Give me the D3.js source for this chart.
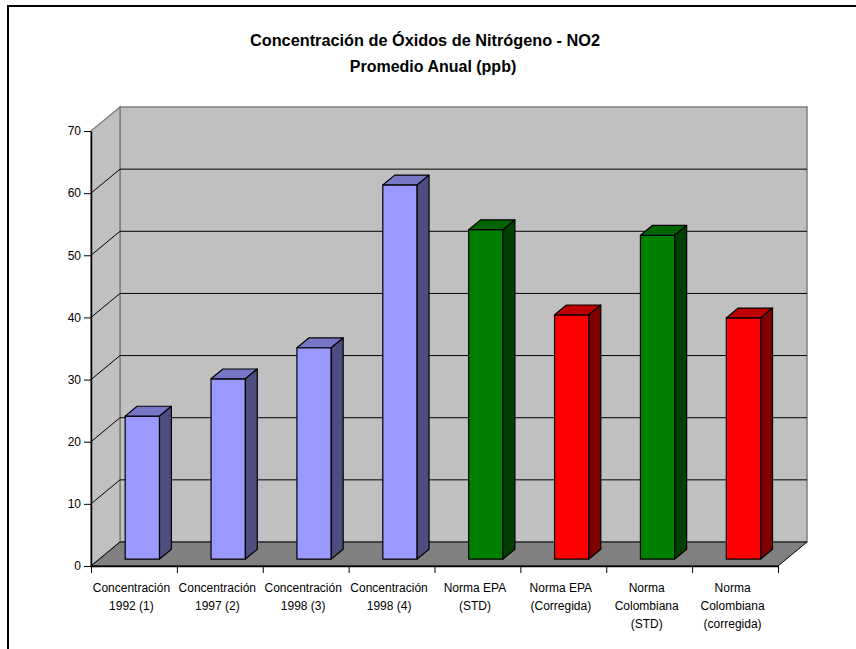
<!DOCTYPE html>
<html>
<head>
<meta charset="utf-8">
<script src="https://cdn.jsdelivr.net/npm/d3@7"></script>
<style>
  html, body { margin: 0; padding: 0; background: #fff; }
  svg { display: block; font-family: "Liberation Sans", Arial, sans-serif; }
</style>
</head>
<body>
<svg id="chart" width="856" height="649"></svg>
<script>
// Annual average NO2 concentrations (ppb) and reference standards
const categories = [
  "Concentración 1992 (1)",
  "Concentración 1997 (2)",
  "Concentración 1998 (3)",
  "Concentración 1998 (4)",
  "Norma EPA (STD)",
  "Norma EPA (Corregida)",
  "Norma Colombiana (STD)",
  "Norma Colombiana (corregida)"
];
const categoryLines = [
  ["Concentración", "1992 (1)"],
  ["Concentración", "1997 (2)"],
  ["Concentración", "1998 (3)"],
  ["Concentración", "1998 (4)"],
  ["Norma EPA", "(STD)"],
  ["Norma EPA", "(Corregida)"],
  ["Norma", "Colombiana", "(STD)"],
  ["Norma", "Colombiana", "(corregida)"]
];
const values = [23, 29, 34, 60.2, 53, 39.3, 52.1, 38.8];
const barKind = ["conc", "conc", "conc", "conc", "std", "corr", "std", "corr"];
const yTicks = [0, 10, 20, 30, 40, 50, 60, 70];
const titleLines = ["Concentración de Óxidos de Nitrógeno - NO2", "Promedio Anual (ppb)"];

// face colours: front, top, side
const palette = {
  conc: { front: "#9999ff", top: "#7777c8", side: "#4d4d80" },
  std:  { front: "#008000", top: "#006400", side: "#004000" },
  corr: { front: "#ff0000", top: "#c00000", side: "#800000" }
};

const svg = d3.select("#chart");

// plot frame (front plane) and depth offset
const plotL = 91, plotR = 778, plotB = 566, plotT = 131;
const DX = 29, DY = 24;
const F1 = 0.29, F2 = 0.70;           // bar depth range (fraction of the floor depth)

const x = d3.scaleBand().domain(categories).range([plotL, plotR]).padding(0);
const xEdge = d3.scaleLinear().domain([0, categories.length]).range([plotL, plotR]);
const y = d3.scaleLinear().domain([0, 70]).range([plotB, plotT]);
const P = (px, py, f) => [px + f * DX, py - f * DY];
const pts = arr => arr.map(p => p.join(",")).join(" ");

// outer chart border
svg.append("rect")
  .attr("x", 8).attr("y", 6).attr("width", 900).attr("height", 700)
  .attr("fill", "none").attr("stroke", "#000").attr("stroke-width", 2);

// title
svg.append("text").attr("x", 425).attr("y", 46)
  .attr("text-anchor", "middle").attr("font-weight", "bold").attr("font-size", 16.3)
  .text(titleLines[0]);
svg.append("text").attr("x", 433).attr("y", 72)
  .attr("text-anchor", "middle").attr("font-weight", "bold").attr("font-size", 16)
  .text(titleLines[1]);

const g = svg.append("g");

// back wall
g.append("polygon")
  .attr("points", pts([P(plotL, y(0), 1), P(plotR, y(0), 1), P(plotR, y(70), 1), P(plotL, y(70), 1)]))
  .attr("fill", "#c0c0c0").attr("stroke", "#808080").attr("stroke-width", 1.5);
// side wall
g.append("polygon")
  .attr("points", pts([[plotL, y(0)], P(plotL, y(0), 1), P(plotL, y(70), 1), [plotL, y(70)]]))
  .attr("fill", "#c0c0c0").attr("stroke", "#808080").attr("stroke-width", 1.5);

// gridlines on side and back walls
yTicks.filter(v => v > 0 && v < 70).forEach(v => {
  const a = [plotL, y(v)], b = P(plotL, y(v), 1), c = P(plotR, y(v), 1);
  g.append("polyline").attr("points", pts([a, b, c]))
    .attr("fill", "none").attr("stroke", "#000").attr("stroke-width", 1);
});

// floor
g.append("polygon")
  .attr("points", pts([[plotL, y(0)], [plotR, y(0)], P(plotR, y(0), 1), P(plotL, y(0), 1)]))
  .attr("fill", "#808080").attr("stroke", "#000").attr("stroke-width", 1);

// bars
const bw = x.bandwidth() * 0.4;
categories.forEach((c, i) => {
  const col = palette[barKind[i]];
  const x0 = x(c) + (x.bandwidth() - bw) / 2, x1 = x0 + bw;
  const yb = y(0), yt = y(values[i]);
  const bar = g.append("g").attr("stroke", "#000").attr("stroke-width", 1.2).attr("stroke-linejoin", "round");
  // front face
  bar.append("polygon")
    .attr("points", pts([P(x0, yb, F1), P(x1, yb, F1), P(x1, yt, F1), P(x0, yt, F1)]))
    .attr("fill", col.front);
  // top face
  bar.append("polygon")
    .attr("points", pts([P(x0, yt, F1), P(x1, yt, F1), P(x1, yt, F2), P(x0, yt, F2)]))
    .attr("fill", col.top);
  // side face
  bar.append("polygon")
    .attr("points", pts([P(x1, yb, F1), P(x1, yb, F2), P(x1, yt, F2), P(x1, yt, F1)]))
    .attr("fill", col.side);
});

// value axis
const yAxis = svg.append("g").attr("transform", `translate(${plotL},0)`)
  .call(d3.axisLeft(y).tickValues(yTicks).tickSize(7).tickPadding(3).tickSizeOuter(0));
yAxis.select(".domain").attr("stroke", "#000").attr("stroke-width", 1.5);
yAxis.selectAll(".tick line").attr("stroke", "#000");
yAxis.selectAll(".tick text").attr("font-size", 12).attr("fill", "#000")
  .attr("font-family", "Liberation Sans, Arial, sans-serif");

// category axis (ticks at category boundaries)
const xAxis = svg.append("g").attr("transform", `translate(0,${plotB})`)
  .call(d3.axisBottom(xEdge).tickValues(d3.range(categories.length + 1)).tickFormat("").tickSize(7).tickSizeOuter(0));
xAxis.select(".domain").attr("stroke", "#000").attr("stroke-width", 1.5);
xAxis.selectAll(".tick line").attr("stroke", "#000");

// category labels
categories.forEach((c, i) => {
  const cx = x(c) + x.bandwidth() / 2 - 2.5;
  const t = svg.append("text")
    .attr("x", cx).attr("y", 592)
    .attr("text-anchor", "middle").attr("font-size", 12).attr("fill", "#000");
  categoryLines[i].forEach((line, k) => {
    t.append("tspan").attr("x", cx).attr("dy", k === 0 ? 0 : 18).text(line);
  });
});
</script>
</body>
</html>
